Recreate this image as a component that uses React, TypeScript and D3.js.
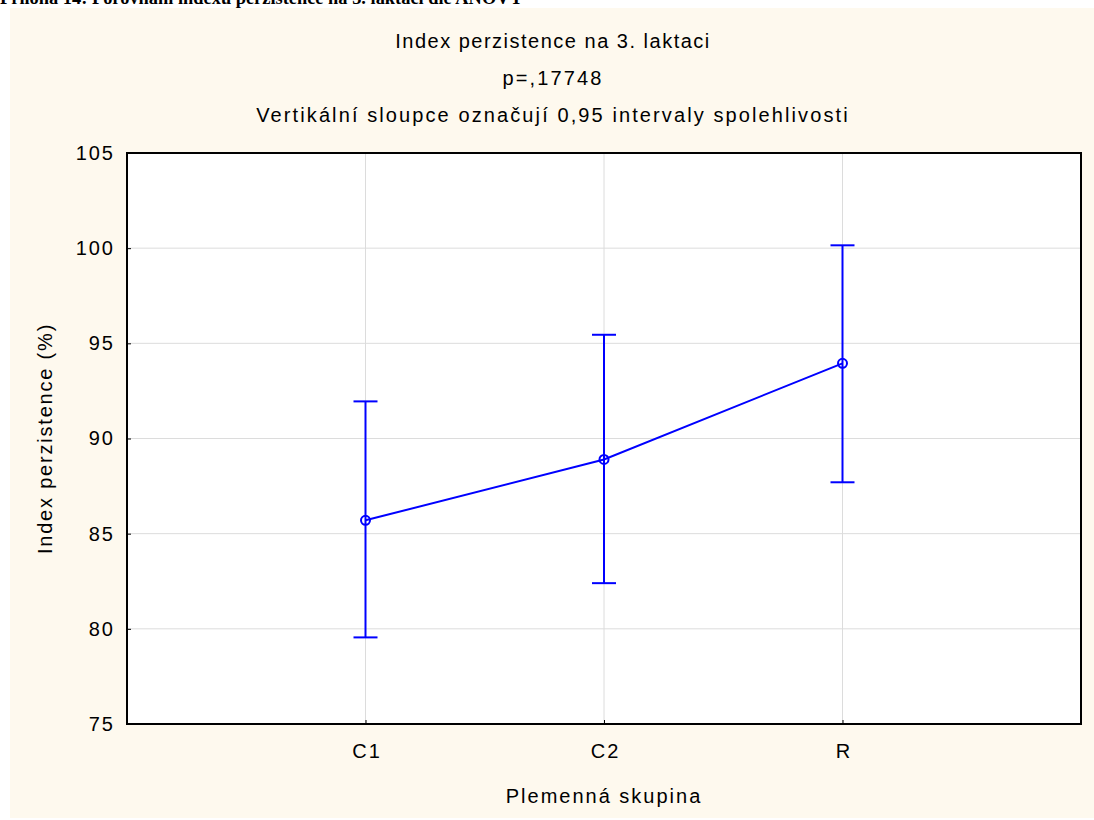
import React, { useEffect, useRef } from 'react';
import * as d3 from 'd3';

const groups = ['C1', 'C2', 'R'];
const means = [85.7, 88.9, 93.95];
const lower = [79.55, 82.4, 87.7];
const upper = [91.95, 95.45, 100.15];
const yTicks = [75, 80, 85, 90, 95, 100, 105];

const heading = 'Příloha 14: Porovnání indexu perzistence na 3. laktaci dle ANOVY';
const titles = [
  'Index perzistence na 3. laktaci',
  'p=,17748',
  'Vertikální sloupce označují 0,95 intervaly spolehlivosti',
];
const xLabel = 'Plemenná skupina';
const yLabel = 'Index perzistence (%)';

const App = () => {
  const svgRef = useRef<SVGSVGElement>(null);

  useEffect(() => {
    const W = 1094;
    const H = 820;
    const margin = { top: 153, right: 13, bottom: 96, left: 127 };
    const width = W - margin.left - margin.right;
    const height = H - margin.top - margin.bottom;
    const font = '"Liberation Sans", Arial, sans-serif';
    const blue = '#0000ff';

    const root = d3.select(svgRef.current).attr('width', W).attr('height', H).html('');

    // page background + cream panel
    root.append('rect').attr('width', W).attr('height', H).attr('fill', '#fff');
    root.append('rect')
      .attr('x', 10).attr('y', 8)
      .attr('width', W - 10).attr('height', H - 10)
      .attr('fill', '#fef9ee');

    // heading of the document page, cut off at the top
    root.append('text')
      .attr('x', 0).attr('y', 4)
      .style('font-family', '"Liberation Serif", "Times New Roman", serif')
      .style('font-weight', 'bold')
      .style('font-size', '18.4px')
      .text(heading);

    // titles
    titles.forEach((t, i) => {
      root.append('text')
        .attr('x', 553).attr('y', 48 + i * 37)
        .attr('text-anchor', 'middle')
        .style('font-family', font)
        .style('font-size', '20px')
        .style('letter-spacing', i === 0 ? '1.5px' : '2.1px')
        .text(t);
    });

    const g = root.append('g').attr('transform', `translate(${margin.left},${margin.top})`);

    const x = d3.scaleLinear().domain([0, groups.length + 1]).range([0, width]);
    const y = d3.scaleLinear().domain([75, 105]).range([height, 0]);

    g.append('rect').attr('width', width).attr('height', height).attr('fill', '#fff');

    // grid
    g.selectAll('line.hgrid')
      .data(yTicks.slice(1, -1))
      .join('line')
      .attr('x1', 0).attr('x2', width)
      .attr('y1', d => y(d)).attr('y2', d => y(d))
      .attr('stroke', '#dcdcdc').attr('stroke-width', 1);
    g.selectAll('line.vgrid')
      .data(groups)
      .join('line')
      .attr('x1', (d, i) => x(i + 1)).attr('x2', (d, i) => x(i + 1))
      .attr('y1', 0).attr('y2', height)
      .attr('stroke', '#dcdcdc').attr('stroke-width', 1);

    // axes, ticks pointing inward
    const yAxis = d3.axisLeft(y).tickValues(yTicks).tickSizeInner(-4).tickSizeOuter(0).tickPadding(12);
    const xAxis = d3.axisBottom(x)
      .tickValues(groups.map((d, i) => i + 1))
      .tickFormat((d, i) => groups[i])
      .tickSizeInner(-4).tickSizeOuter(0).tickPadding(20);

    const ya = g.append('g').call(yAxis);
    const xa = g.append('g').attr('transform', `translate(0,${height})`).call(xAxis);
    [ya, xa].forEach(a => {
      a.select('.domain').remove();
      a.selectAll('.tick line').attr('stroke', '#000').attr('stroke-width', 1);
      a.selectAll('text')
        .style('font-family', font)
        .style('font-size', '20px')
        .style('letter-spacing', '2px')
        .attr('fill', '#000');
    });
    xa.selectAll('text').attr('dx', '1px');

    // frame
    g.append('rect')
      .attr('width', width).attr('height', height)
      .attr('fill', 'none').attr('stroke', '#000').attr('stroke-width', 2);

    // error bars
    const cap = 12;
    groups.forEach((grp, i) => {
      const cx = x(i + 1);
      g.append('line')
        .attr('x1', cx).attr('x2', cx)
        .attr('y1', y(lower[i])).attr('y2', y(upper[i]))
        .attr('stroke', blue).attr('stroke-width', 2);
      [lower[i], upper[i]].forEach(v => {
        g.append('line')
          .attr('x1', cx - cap).attr('x2', cx + cap)
          .attr('y1', y(v)).attr('y2', y(v))
          .attr('stroke', blue).attr('stroke-width', 2);
      });
    });

    // line through the means
    const line = d3.line<number>()
      .x((d, i) => x(i + 1))
      .y(d => y(d));
    g.append('path')
      .datum(means)
      .attr('fill', 'none')
      .attr('stroke', blue)
      .attr('stroke-width', 2)
      .attr('d', line);

    g.selectAll('circle.mean')
      .data(means)
      .join('circle')
      .attr('cx', (d, i) => x(i + 1))
      .attr('cy', d => y(d))
      .attr('r', 4.5)
      .attr('fill', 'none')
      .attr('stroke', blue)
      .attr('stroke-width', 2);

    // axis labels
    root.append('text')
      .attr('x', margin.left + width / 2).attr('y', 803)
      .attr('text-anchor', 'middle')
      .style('font-family', font).style('font-size', '20px')
      .style('letter-spacing', '2px')
      .text(xLabel);

    root.append('text')
      .attr('transform', `translate(52,${margin.top + height / 2}) rotate(-90)`)
      .attr('text-anchor', 'middle')
      .style('font-family', font).style('font-size', '20px')
      .style('letter-spacing', '1.8px')
      .text(yLabel);
  }, []);

  return <svg ref={svgRef} style={{ position: 'absolute', left: 0, top: 0, display: 'block' }} />;
};

export default App;
